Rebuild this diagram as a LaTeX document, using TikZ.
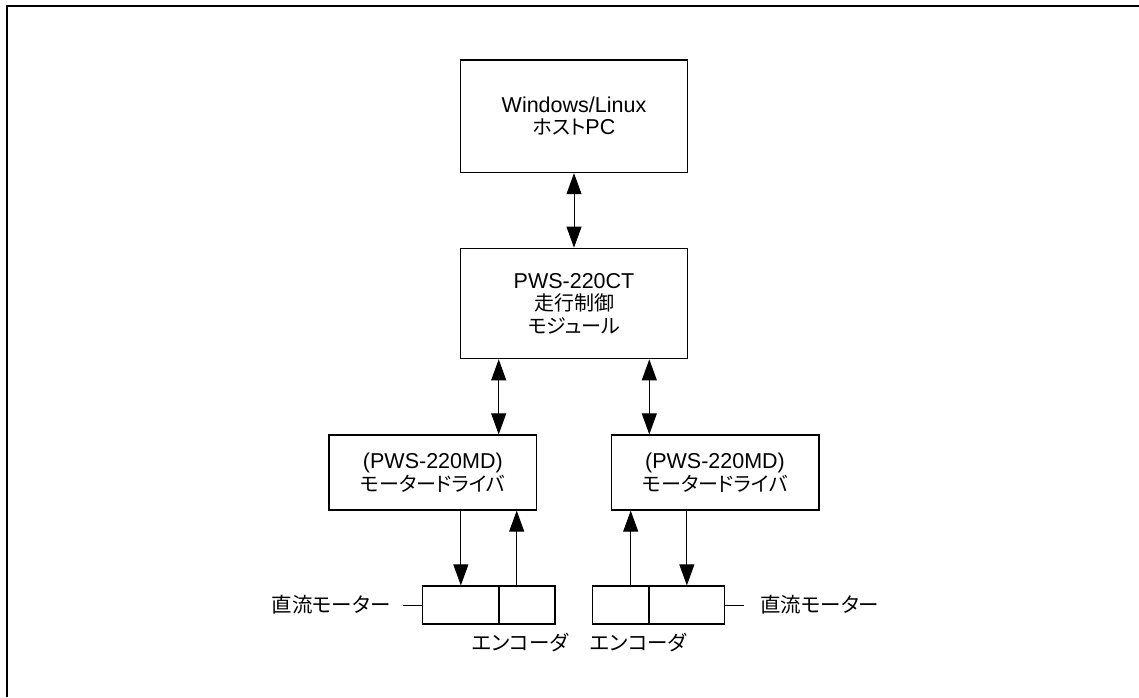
\documentclass[tikz,border=0pt]{standalone}
\usepackage{fontspec}
\setmainfont{Liberation Sans}
\newfontfamily\jp[RawFeature=+palt]{Noto Sans CJK JP}
\newcommand{\jpt}[1]{{\jp\fontsize{20}{22.5}\selectfont #1}}
\usetikzlibrary{arrows.meta}
\begin{document}
\begin{tikzpicture}[x=1pt,y=-1pt,
 box/.style={draw, line width=1.3pt, inner sep=0pt, align=center, font=\fontsize{21.5}{22.5}\selectfont},
 part/.style={draw, line width=1.3pt, inner sep=0pt, minimum height=38pt},
 arr/.style={line width=1pt, -{Triangle[length=21pt,width=15pt]}},
 darr/.style={line width=1pt, {Triangle[length=21pt,width=15pt]}-{Triangle[length=21pt,width=15pt]}},
 stub/.style={line width=1pt},
 lbl/.style={font=\jp\fontsize{20.5}{22}\selectfont, inner sep=0pt}]
\useasboundingbox (0,0) rectangle (1139,697);
\draw[line width=2pt] (6.5,697) -- (6.5,5.5) -- (1139,5.5);

\node[box, minimum width=226.6pt, minimum height=112.5pt] (host) at (574,116.25) {Windows/Linux\\\jpt{ホスト}PC};
\node[box, minimum width=226.6pt, minimum height=110.4pt] (ct) at (574,303.5) {PWS-220CT\\\jpt{走行制御}\\\jpt{モジュール}};
\node[box, minimum width=207.7pt, minimum height=75pt] (ld) at (432.85,472.5) {(PWS-220MD)\\\jpt{モータードライバ}};
\node[box, minimum width=207.7pt, minimum height=75pt] (rd) at (715,472.5) {(PWS-220MD)\\\jpt{モータードライバ}};

\node[part, minimum width=76.3pt] (lm) at (460.85,605) {};
\node[part, minimum width=56pt] (le) at (527,605) {};
\node[part, minimum width=56.3pt] (re) at (620.85,605) {};
\node[part, minimum width=75.7pt] (rm) at (686.85,605) {};

\node[lbl] (ml) at (331,605) {直流モーター};
\node[lbl] (mr) at (819.7,605) {直流モーター};
\node[lbl] (el) at (520,643) {エンコーダ};
\node[lbl] (er) at (638.5,643) {エンコーダ};

\coordinate (ls) at (403,605);
\coordinate (rs) at (744,605);
\coordinate (xa) at (498.7,0);
\coordinate (xb) at (649.3,0);
\coordinate (xc) at (516.7,0);
\coordinate (xd) at (630.7,0);

\draw[stub] (ls) -- (lm.west);
\draw[stub] (rm.east) -- (rs);

\draw[darr] (host) -- (ct);
\draw[darr] (ct.south -| xa) -- (ld.north -| xa);
\draw[darr] (ct.south -| xb) -- (rd.north -| xb);
\draw[arr] (ld.south -| lm.north) -- (lm.north);
\draw[arr] (le.north -| xc) -- (ld.south -| xc);
\draw[arr] (re.north -| xd) -- (rd.south -| xd);
\draw[arr] (rd.south -| rm.north) -- (rm.north);
\end{tikzpicture}
\end{document}
